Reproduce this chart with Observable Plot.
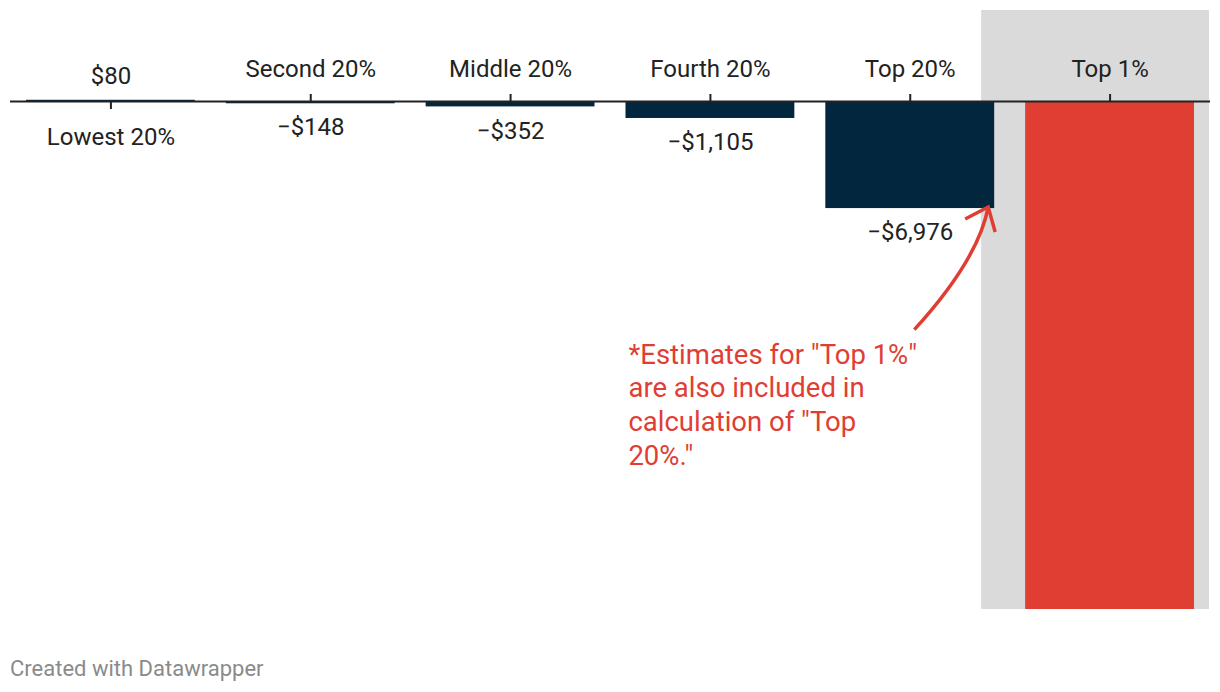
<!DOCTYPE html>
<html>
<head>
<meta charset="utf-8">
<script src="https://cdn.jsdelivr.net/npm/d3@7"></script>
<script src="https://cdn.jsdelivr.net/npm/@observablehq/plot@0.6"></script>
<style>
  body { margin: 0; background: #fff; font-family: Roboto, sans-serif; }
  #chart svg { display: block; }
  .footer { font-family: Roboto, sans-serif; font-size: 22px; color: #8a8a8a; margin: 26px 0 0 10px; }
</style>
</head>
<body>
<div id="chart"></div>
<div class="footer">Created with Datawrapper</div>
<script>
const groups = ["Lowest 20%", "Second 20%", "Middle 20%", "Fourth 20%", "Top 20%", "Top 1%"];
const values = [80, -148, -352, -1105, -6976, -33100];
const showLabel = [true, true, true, true, true, false];
const note = '*Estimates for "Top 1%"\nare also included in\ncalculation of "Top\n20%."';
const yDomain = [-33100, 5930];

const data = groups.map((g, i) => ({group: g, value: values[i], label: showLabel[i]}));
const fmt = d3.format("$,");
const dark = "#01263d", red = "#e03e33";

const arrowMark = (index, scales, vals, dims, context) => {
  const x = scales.x, y = scales.y;
  const bx = x("Top 20%"), bw = x.bandwidth();
  const tx = bx + bw - 6, ty = y(-6976) - 1;
  const sx = bx + 89, sy = y(-14900);
  const g = d3.create("svg:g").attr("fill", "none").attr("stroke", red).attr("stroke-width", 3.5).attr("stroke-linecap", "butt");
  g.append("path").attr("d", `M${sx},${sy} Q${tx - 10},${sy - 70} ${tx},${ty}`);
  g.append("path").attr("d", `M${tx - 23},${ty + 12} L${tx},${ty} L${tx + 7},${ty + 25}`);
  return g.node();
};

const chart = Plot.plot({
  width: 1220,
  height: 630,
  marginLeft: 10,
  marginRight: 10,
  marginTop: 10,
  marginBottom: 21,
  style: {fontFamily: "Roboto, sans-serif", background: "#fff"},
  x: {domain: groups, paddingInner: 0.155, paddingOuter: 0.08, round: false, axis: null},
  y: {domain: yDomain, axis: null},
  marks: [
    Plot.barY([data[5]], {x: "group", y1: yDomain[0], y2: yDomain[1], fill: "#dadada", insetLeft: -44, insetRight: -15}),
    Plot.barY(data, {x: "group", y: "value", fill: d => d.group === "Top 1%" ? red : dark, clip: true}),
    Plot.ruleY([0], {stroke: "#222", strokeWidth: 2}),
    Plot.axisX({anchor: "top", label: null, dy: 91, tickSize: 8, tickPadding: 17, fontSize: 24, ticks: groups.filter((g, i) => values[i] < 0), stroke: "#222", strokeWidth: 2, color: "#222"}),
    Plot.axisX({anchor: "bottom", label: null, dy: -508, tickSize: 8, tickPadding: 18, fontSize: 24, ticks: groups.filter((g, i) => values[i] >= 0), stroke: "#222", strokeWidth: 2, color: "#222"}),
    Plot.text(data.filter(d => d.label && d.value < 0), {x: "group", y: "value", text: d => fmt(d.value), dy: 24, fontSize: 24, fill: "#222"}),
    Plot.text(data.filter(d => d.label && d.value >= 0), {x: "group", y: "value", text: d => fmt(d.value), dy: -24, fontSize: 24, fill: "#222"}),
    Plot.text([note], {x: () => "Fourth 20%", y: () => -15500, text: d => d, dx: -82, textAnchor: "start", lineAnchor: "top", fontSize: 27.5, lineHeight: 1.236, fill: red}),
    arrowMark
  ]
});
document.getElementById("chart").appendChild(chart);
</script>
</body>
</html>
